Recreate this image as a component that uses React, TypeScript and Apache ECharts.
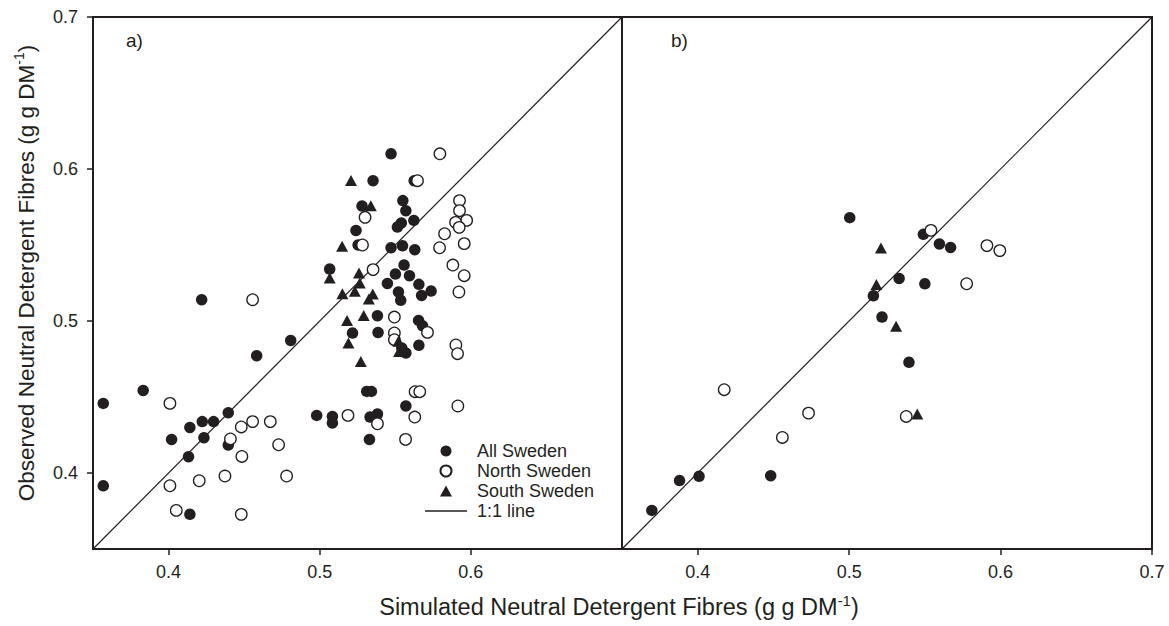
import React, { useEffect, useRef } from 'react';
import * as echarts from 'echarts';

// ---------- data (simulated, observed) ----------
const allSwedenA = [
  [0.3568, 0.4458], [0.3832, 0.4543], [0.4395, 0.4397], [0.4141, 0.43], [0.4223, 0.4338],
  [0.4298, 0.4338], [0.402, 0.4221], [0.4234, 0.4232], [0.4395, 0.4184], [0.4132, 0.4107],
  [0.3568, 0.3916], [0.4141, 0.3728], [0.498, 0.4379], [0.5084, 0.4372], [0.5084, 0.4329],
  [0.4219, 0.514], [0.4583, 0.4772], [0.4808, 0.4872], [0.5472, 0.61], [0.5353, 0.5923],
  [0.5625, 0.5923], [0.528, 0.5757], [0.555, 0.5792], [0.557, 0.5726], [0.5623, 0.5662],
  [0.554, 0.5645], [0.5514, 0.5618], [0.524, 0.5596], [0.5254, 0.55], [0.5472, 0.5482],
  [0.5548, 0.5495], [0.5629, 0.5469], [0.5066, 0.5342], [0.5558, 0.5368], [0.5501, 0.5309],
  [0.5594, 0.5298], [0.5448, 0.5247], [0.5656, 0.5241], [0.5521, 0.5191], [0.5737, 0.5197],
  [0.5674, 0.5168], [0.5536, 0.5136], [0.5382, 0.5035], [0.5654, 0.5004], [0.568, 0.4969],
  [0.5217, 0.4921], [0.5386, 0.4925], [0.5543, 0.4822], [0.557, 0.479], [0.5656, 0.484],
  [0.5311, 0.4537], [0.5342, 0.4537], [0.557, 0.4441], [0.5333, 0.4368], [0.5382, 0.4388],
  [0.5329, 0.4221],
];
const northSwedenA = [
  [0.4009, 0.4458], [0.4481, 0.4303], [0.4556, 0.4338], [0.4673, 0.4338], [0.4409, 0.4224],
  [0.4728, 0.4186], [0.4485, 0.4109], [0.4781, 0.398], [0.4373, 0.398], [0.4203, 0.3949],
  [0.4009, 0.3916], [0.4051, 0.3754], [0.4481, 0.3728], [0.5187, 0.4379], [0.4556, 0.514],
  [0.5795, 0.61], [0.5647, 0.5923], [0.53, 0.5682], [0.5925, 0.5792], [0.5925, 0.5726],
  [0.5972, 0.5662], [0.5899, 0.5649], [0.5923, 0.5616], [0.5826, 0.5574], [0.5956, 0.5509],
  [0.5793, 0.5482], [0.5283, 0.55], [0.5353, 0.5338], [0.5921, 0.5191], [0.5881, 0.5368],
  [0.5956, 0.5298], [0.5494, 0.5026], [0.5713, 0.4925], [0.5494, 0.4921], [0.5494, 0.4877],
  [0.5901, 0.4842], [0.5912, 0.4785], [0.5631, 0.4535], [0.5662, 0.4535], [0.5914, 0.4441],
  [0.5382, 0.4324], [0.5629, 0.4368], [0.5568, 0.4221],
];
const southSwedenA = [
  [0.5207, 0.5925], [0.5338, 0.5759], [0.5148, 0.5491], [0.5066, 0.5283], [0.526, 0.5316],
  [0.5265, 0.525], [0.5232, 0.5195], [0.515, 0.518], [0.5351, 0.5178], [0.5325, 0.5145],
  [0.5181, 0.5004], [0.5291, 0.5037], [0.519, 0.4855], [0.5521, 0.4866], [0.5525, 0.48],
  [0.5272, 0.4734],
];
const allSwedenB = [
  [0.5004, 0.568], [0.549, 0.557], [0.5596, 0.5507], [0.567, 0.5484], [0.533, 0.528],
  [0.55, 0.5245], [0.516, 0.5166], [0.5217, 0.5026], [0.5395, 0.4728], [0.4482, 0.3982],
  [0.4009, 0.3978], [0.388, 0.395], [0.3697, 0.3754],
];
const northSwedenB = [
  [0.554, 0.5596], [0.591, 0.5496], [0.5995, 0.5463], [0.5776, 0.5245], [0.5377, 0.4372],
  [0.4175, 0.4548], [0.4732, 0.4394], [0.4559, 0.4234],
];
const southSwedenB = [
  [0.521, 0.548], [0.518, 0.524], [0.531, 0.4965], [0.545, 0.4388],
];
const oneToOneLine = [[0.35, 0.35], [0.7, 0.7]];

const axisMin = 0.35;
const axisMax = 0.7;
const xTicksA = [0.4, 0.5, 0.6];
const xTicksB = [0.4, 0.5, 0.6, 0.7];
const yTicks = [0.4, 0.5, 0.6, 0.7];
const legendNames = ['All Sweden', 'North Sweden', 'South Sweden', '1:1 line'];
const panelLabels = ['a)', 'b)'];
const xTitle = 'Simulated Neutral Detergent Fibres (g g DM';
const yTitle = 'Observed Neutral Detergent Fibres (g g DM';

const INK = '#231f20';
const FONT = '"Liberation Sans", Arial, Helvetica, sans-serif';

function xAxisCfg(gridIndex: number, ticks: number[]) {
  return {
    type: 'value', gridIndex, min: axisMin, max: axisMax,
    axisLine: { show: true, lineStyle: { color: INK, width: 2 } },
    splitLine: { show: false },
    axisTick: { show: true, length: 6, customValues: ticks, lineStyle: { color: INK, width: 1.5 } },
    axisLabel: {
      customValues: ticks, formatter: (v: number) => v.toFixed(1),
      fontSize: 18, color: INK, fontFamily: FONT, margin: 14,
    },
  };
}

function yAxisCfg(gridIndex: number, showLabels: boolean) {
  return {
    type: 'value', gridIndex, min: axisMin, max: axisMax,
    axisLine: { show: true, lineStyle: { color: INK, width: 2 } },
    splitLine: { show: false },
    axisTick: { show: showLabels, length: 6, customValues: yTicks, lineStyle: { color: INK, width: 1.5 } },
    axisLabel: {
      show: showLabels, customValues: yTicks, formatter: (v: number) => v.toFixed(1),
      fontSize: 18, color: INK, fontFamily: FONT, margin: 15,
    },
  };
}

function panelSeries(idx: number, all: number[][], north: number[][], south: number[][]) {
  return [
    {
      type: 'line', name: legendNames[3], xAxisIndex: idx, yAxisIndex: idx, data: oneToOneLine,
      symbol: 'none', lineStyle: { color: INK, width: 1.2 }, itemStyle: { color: INK }, z: 1,
    },
    {
      type: 'scatter', name: legendNames[0], xAxisIndex: idx, yAxisIndex: idx, data: all,
      symbol: 'circle', symbolSize: 11.5, itemStyle: { color: INK, opacity: 1 }, z: 2,
    },
    {
      type: 'scatter', name: legendNames[1], xAxisIndex: idx, yAxisIndex: idx, data: north,
      symbol: 'circle', symbolSize: 11.5,
      itemStyle: { color: '#ffffff', borderColor: INK, borderWidth: 1.3, opacity: 1 }, z: 3,
    },
    {
      type: 'scatter', name: legendNames[2], xAxisIndex: idx, yAxisIndex: idx, data: south,
      symbol: 'triangle', symbolSize: [12, 11], itemStyle: { color: INK, opacity: 1 }, z: 4,
    },
  ];
}

function titleRich(size: number) {
  return {
    a: { fontSize: size, fontFamily: FONT, fill: INK, lineHeight: size + 5 },
    s: { fontSize: Math.round(size * 0.62), fontFamily: FONT, fill: INK, verticalAlign: 'top', lineHeight: size + 5 },
  };
}

export default function App() {
  const ref = useRef<HTMLDivElement>(null);
  useEffect(() => {
    if (!ref.current) return;
    const chart = echarts.init(ref.current, undefined, { renderer: 'svg' });
    chart.setOption({
      animation: false,
      backgroundColor: '#ffffff',
      grid: [
        { left: 93, top: 17, width: 529, height: 532, show: true, borderColor: INK, borderWidth: 2, backgroundColor: 'transparent' },
        { left: 622, top: 17, width: 530, height: 532, show: true, borderColor: INK, borderWidth: 2, backgroundColor: 'transparent' },
      ],
      xAxis: [xAxisCfg(0, xTicksA), xAxisCfg(1, xTicksB)],
      yAxis: [yAxisCfg(0, true), yAxisCfg(1, false)],
      legend: {
        data: [
          { name: legendNames[0], icon: 'circle' },
          { name: legendNames[1], icon: 'circle' },
          { name: legendNames[2], icon: 'path://M6,0 L12,11 L0,11 Z' },
          { name: legendNames[3], icon: 'path://M0,0 L42,0 L42,1.4 L0,1.4 Z' },
        ],
        orient: 'vertical', left: 425, top: 441, padding: 0, itemGap: 0,
        itemWidth: 42, itemHeight: 11, selectedMode: false, symbolKeepAspect: true,
        textStyle: { fontSize: 18, color: INK, fontFamily: FONT, lineHeight: 20, padding: [0, 0, 0, 5] },
      },
      series: [
        ...panelSeries(0, allSwedenA, northSwedenA, southSwedenA),
        ...panelSeries(1, allSwedenB, northSwedenB, southSwedenB),
      ],
      graphic: [
        { type: 'text', left: 126, top: 31, style: { text: panelLabels[0], fontSize: 19, fontFamily: FONT, fill: INK } },
        { type: 'text', left: 671, top: 31, style: { text: panelLabels[1], fontSize: 19, fontFamily: FONT, fill: INK } },
        {
          type: 'text', x: 619, y: 607,
          style: { text: `{a|${xTitle}}{s|-1}{a|)}`, align: 'center', verticalAlign: 'middle', rich: titleRich(23.5) },
        },
        {
          type: 'text', x: 26, y: 273, rotation: Math.PI / 2,
          style: { text: `{a|${yTitle}}{s|-1}{a|)}`, align: 'center', verticalAlign: 'middle', rich: titleRich(22.5) },
        },
      ],
    });
    return () => chart.dispose();
  }, []);
  return (
    <div
      ref={ref}
      style={{ position: 'absolute', left: 0, top: 0, width: 1169, height: 626, background: '#fff' }}
    />
  );
}
